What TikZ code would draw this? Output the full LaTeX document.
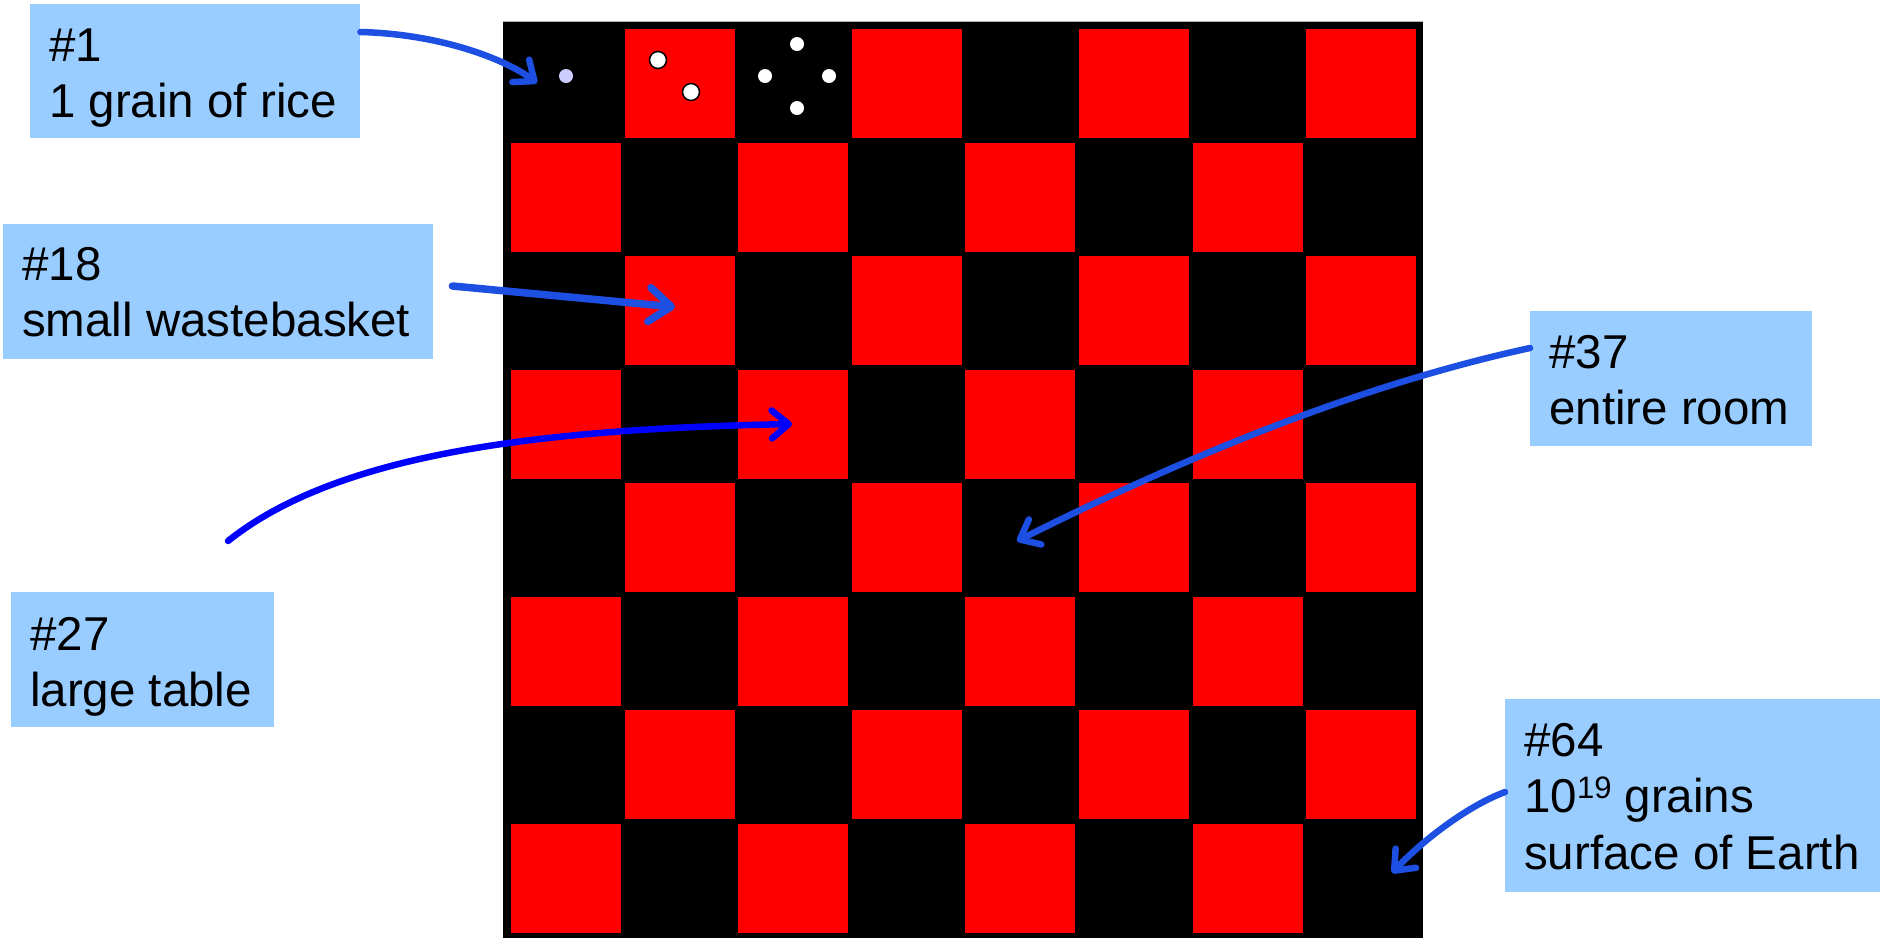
\documentclass[tikz,border=0pt]{standalone}
\usepackage{fontspec}
\setmainfont{Liberation Sans}
\usetikzlibrary{arrows.meta}
\definecolor{boxblue}{RGB}{153,204,255}
\definecolor{arrblue}{RGB}{28,79,226}
\definecolor{pureblue}{RGB}{0,0,255}
\definecolor{lav}{RGB}{204,204,255}
\newcommand\stk[1]{\vtop{\baselineskip=56.5pt\lineskiplimit=-100pt\lineskip=0pt #1}}
\begin{document}
\begin{tikzpicture}[x=1pt,y=-1pt,
  infobox/.style={fill=boxblue, draw=none, inner sep=0pt, anchor=north west},
  lbl/.style={inner sep=0pt, anchor=base west, font=\fontsize{47.5pt}{56.5pt}\selectfont},
  arr/.style={draw=arrblue, line width=6.5pt, line cap=round, -{Straight Barb[length=17pt,width=28pt,round]}},
  bigarr/.style={arr, line width=7.5pt, -{Straight Barb[length=22pt,width=34pt,round]}},
  grain/.style={fill=white},
  ograin/.style={fill=white, draw=black, line width=1.5pt}]
\useasboundingbox (0,0) rectangle (1880,938);
% board
\fill[black] (503,21) rectangle (1423,938);
\draw[gray!60, line width=1pt] (503,21.5) -- (1423,21.5);
\foreach \i in {0,...,7}{\foreach \j in {0,...,7}{
  \pgfmathtruncatemacro\s{mod(\i+\j,2)}
  \ifnum\s=1 \fill[red] ({511+113.6*\i},{29+113.5*\j}) rectangle ++(110,109);\fi}}
% grains
\fill[lav] (566,76) circle (7pt);
\draw[ograin] (658,60) circle (8.5pt);
\draw[ograin] (691,92) circle (8.5pt);
\fill[grain] (797,44) circle (7pt);
\fill[grain] (765,76) circle (7pt);
\fill[grain] (829,76) circle (7pt);
\fill[grain] (797,108) circle (7pt);
% boxes
\node[infobox, minimum width=330pt, minimum height=134pt] (b1) at (30,4) {};
\node[infobox, minimum width=430pt, minimum height=135pt] (b18) at (3,224) {};
\node[infobox, minimum width=263pt, minimum height=135pt] (b27) at (11,592) {};
\node[infobox, minimum width=282pt, minimum height=135pt] (b37) at (1530,311) {};
\node[infobox, minimum width=375pt, minimum height=193pt] (b64) at (1505,699) {};
% texts
\node[lbl] (t1) at ([xshift=19pt,yshift=-57pt]b1.north west) {\stk{\hbox{\#1}\hbox{1 grain of rice}}};
\node[lbl] (t18) at ([xshift=19pt,yshift=-56pt]b18.north west) {\stk{\hbox{\#18}\hbox{small wastebasket}}};
\node[lbl] (t27) at ([xshift=19pt,yshift=-58pt]b27.north west) {\stk{\hbox{\#27}\hbox{large table}}};
\node[lbl] (t37) at ([xshift=19pt,yshift=-57pt]b37.north west) {\stk{\hbox{\#37}\hbox{entire room}}};
\node[lbl] (t64) at ([xshift=19pt,yshift=-57pt]b64.north west) {\stk{\hbox{\#64}\hbox{10\raisebox{14pt}{\fontsize{31pt}{31pt}\selectfont 19} grains}\hbox{surface of Earth}}};
% arrow ends
\coordinate (e1) at (537,83);
\coordinate (e18) at (675,307);
\coordinate (e27) at (792,424);
\coordinate (e37) at (1017,541);
\coordinate (e64) at (1392,873);
% arrows
\draw[arr] ([yshift=-28pt]b1.north east) .. controls (440,34) and (505,59) .. (e1);
\draw[bigarr] ([xshift=19pt,yshift=-62pt]b18.north east) -- (e18);
\draw[arr, draw=pureblue] ([xshift=217pt,yshift=51pt]b27.north west) .. controls (338,453) and (542,429) .. (e27);
\draw[arr] ([yshift=-37pt]b37.north west) .. controls (1360,385) and (1187,456) .. (e37);
\draw[arr] ([yshift=-93pt]b64.north west) .. controls (1465,807) and (1420,843) .. (e64);
\end{tikzpicture}
\end{document}
